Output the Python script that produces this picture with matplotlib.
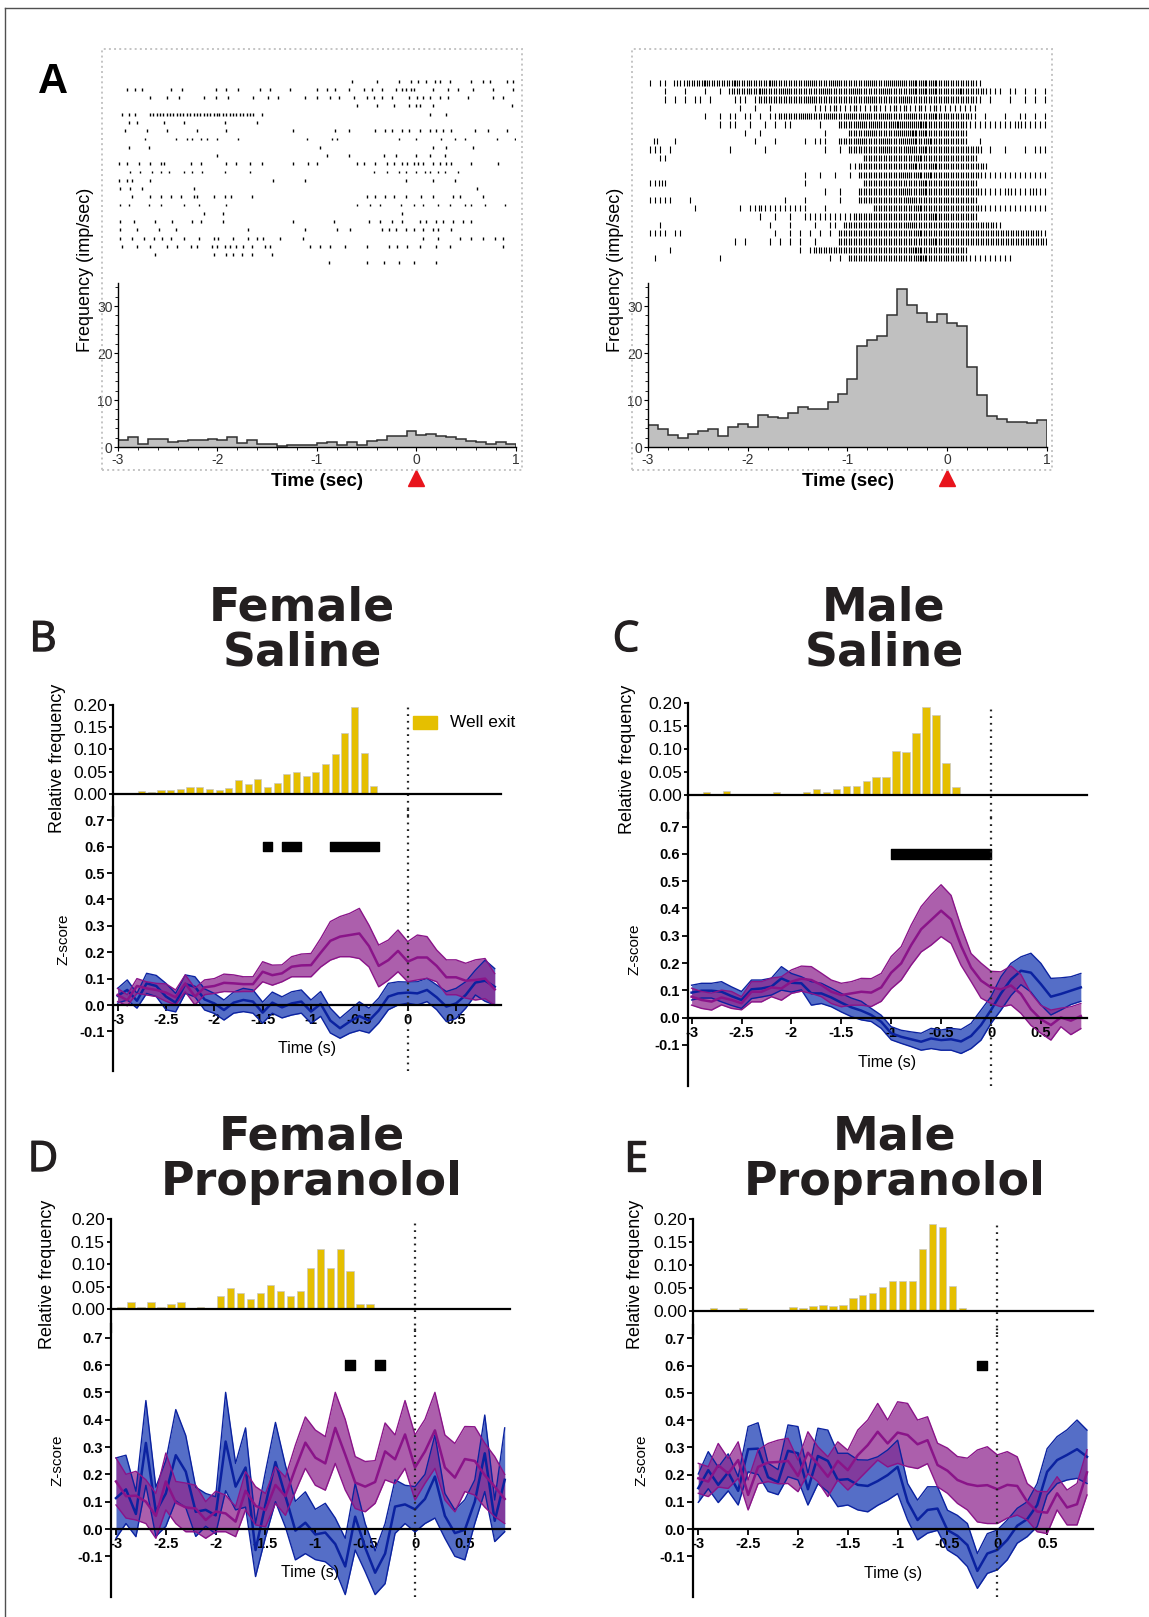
import numpy as np
import matplotlib.pyplot as plt
import matplotlib.patheffects as pe
from matplotlib.patches import Rectangle
from matplotlib.lines import Line2D

plt.rcParams['font.family'] = ['Liberation Sans', 'DejaVu Sans']

W, H = 1149, 1617

# ---------------- panel A data ----------------
# spike times (s) per trial, left unit
raster_left = [
    [-0.65, -0.40, -0.18, -0.06, 0.02, 0.10, 0.19, 0.24, 0.34, 0.55, 0.67, 0.74, 0.91, 0.97],
    [-2.91, -2.83, -2.76, -2.47, -2.36, -2.02, -1.91, -1.79, -1.57, -1.47, -1.27, -1.00, -0.90, -0.82,
     -0.68, -0.53, -0.45, -0.35, -0.21, -0.15, -0.11, -0.06, -0.03, 0.17, 0.32, 0.42, 0.57, 0.77, 0.97],
    [-2.68, -2.51, -2.39, -2.14, -2.02, -1.89, -1.64, -1.49, -1.39, -1.12, -1.00, -0.87, -0.78, -0.63,
     -0.50, -0.43, -0.35, -0.25, -0.08, 0.00, 0.07, 0.14, 0.24, 0.32, 0.52, 0.77, 0.87],
    [-0.60, -0.40, -0.23, -0.08, -0.01, 0.04, 0.17, 0.96],
    [-2.96, -2.89, -2.83, -2.68, -2.65, -2.61, -2.58, -2.55, -2.51, -2.48, -2.45, -2.41, -2.38, -2.35,
     -2.31, -2.28, -2.24, -2.21, -2.18, -2.14, -2.11, -2.08, -2.04, -2.01, -1.98, -1.94, -1.91, -1.87,
     -1.84, -1.81, -1.77, -1.74, -1.70, -1.67, -1.64, -1.55, 0.14, 0.30],
    [-2.89, -2.81, -2.54, -2.34, -1.92, -1.60],
    [-2.93, -2.71, -2.51, -2.21, -1.91, -1.24, -0.82, -0.68, -0.42, -0.32, -0.25, -0.15, -0.08, 0.04,
     0.14, 0.20, 0.27, 0.35, 0.59, 0.72, 0.91],
    [-2.73, -2.42, -2.31, -2.26, -2.17, -2.11, -2.01, -1.79, -1.10, -0.85, -0.80, -0.18, -0.01, 0.25,
     0.39, 0.49, 0.81, 0.99],
    [-2.89, -2.69, -0.97, 0.17, 0.30, 0.57],
    [-2.01, -0.90, -0.68, -0.33, -0.21, -0.01, 0.14, 0.29],
    [-2.99, -2.91, -2.79, -2.68, -2.57, -2.54, -2.27, -2.17, -1.91, -1.81, -1.67, -1.55, -1.24, -1.09,
     -1.00, -0.60, -0.53, -0.42, -0.30, -0.23, -0.15, -0.10, -0.03, 0.02, 0.07, 0.17, 0.24, 0.30, 0.35,
     0.55, 0.82],
    [-2.88, -2.78, -2.66, -2.57, -2.49, -2.34, -2.26, -2.16, -1.92, -1.67, -0.43, -0.30, -0.18, -0.11,
     -0.01, 0.09, 0.14, 0.22, 0.29, 0.42],
    [-2.99, -2.91, -2.86, -2.68, -1.44, -1.12, -0.11, 0.17, 0.39],
    [-2.98, -2.88, -2.76, -2.24, 0.61],
    [-2.86, -2.68, -2.57, -2.47, -2.37, -2.24, -2.21, -2.04, -1.92, -1.86, -1.65, -0.50, -0.42, -0.32,
     -0.23, -0.11, 0.05, 0.17, 0.37, 0.44, 0.67],
    [-2.98, -2.89, -2.69, -2.57, -2.34, -2.19, -1.91, -0.60, -0.47, -0.37, -0.16, -0.03, 0.07, 0.22,
     0.34, 0.49, 0.55, 0.69, 0.89],
    [-2.14, -1.94, -0.15],
    [-2.98, -2.84, -2.63, -2.46, -2.26, -2.17, -1.94, -1.24, -0.83, -0.48, -0.37, -0.25, -0.15, 0.04,
     0.10, 0.20, 0.27, 0.37, 0.47, 0.55],
    [-2.98, -2.81, -2.59, -2.42, -1.69, -1.12, -0.80, -0.67, -0.35, -0.28, -0.21, -0.11, -0.03, 0.07,
     0.17, 0.22, 0.35],
    [-2.98, -2.86, -2.74, -2.64, -2.56, -2.47, -2.34, -2.19, -2.04, -1.99, -1.84, -1.69, -1.60, -1.54,
     -1.37, -1.14, 0.07, 0.22, 0.44, 0.55, 0.67, 0.79, 0.87],
    [-2.96, -2.81, -2.68, -2.51, -2.41, -2.27, -2.21, -2.06, -2.01, -1.92, -1.87, -1.81, -1.74, -1.65,
     -1.52, -1.47, -1.07, -0.97, -0.87, -0.72, -0.50, -0.28, -0.20, -0.10, 0.04, 0.20, 0.34, 0.87],
    [-2.63, -2.04, -1.91, -1.84, -1.75, -1.65, -1.45],
    [-0.88, -0.50, -0.33, -0.18, -0.03, 0.20],
]

# right unit: spike counts per 0.05 s bin (-3 .. 1 s), one string per trial
raster_right_counts = [
    "1.11.21222 2322222322 2222322222 2232222322 2222322232 3223232322 2222221... ..........",
    "...1...1.. .1..1.2222 2232222322 2222232222 2322222322 2223232322 2232222211 1.11.1.1.1",
    "...1.1.1.1 1.1....111 .122222222 2232222222 2222322222 2322222222 2222221.1. ..1..1.1.1",
    ".......... ........1. .1..1..... ...1111211 1211121112 1211211211 111111.... ..........",
    ".......... .1..1.11.1 1.1.112222 2322223222 3223222322 2232222322 222221.1.. .1..11.1.1",
    ".......... ....1.11.. 1..1.1.11. ....1...22 2232232223 3232332222 2222111111 1111211111",
    ".......... .........1 ..1....... .....1.... 2222322222 3233232222 2222...... ..........",
    ".2...1.... .......... .1...1.... .1.111..22 2232222322 2323223222 2222..1... ..........",
    "111.1..... ......1... ...1...... .....1..1. 2222222322 2232232222 2222222.1. .1...1.111",
    "..11...... .......... .......... .......... ...2222222 2222322222 222222.... ..........",
    ".......... .......... .......... .......... 1122222222 2223222322 22222222.. ..........",
    ".......... .......... .......... .1..1..1.. 1.22222222 2322323222 2222222111 1111111111",
    "1121...... .......... .......... .1........ ...2222222 2222232222 222222.... ..........",
    ".......... .......... .......... .....1..1. ..22222222 2322232222 2222222111 1121111211",
    "11111...1. .......... .......1.. .1......1. ..22222222 2232222222 222222.... ..........",
    ".........1 ........1. 1121111111 11...1.... .....22222 2222322222 2222222111 1111111111",
    ".......... .......... ..1..1..1. .111111111 1222222222 2222222322 222222.... ..........",
    "..1....... .......... ....1...1. ...1..11.2 2222222222 2232222222 2222222222 1.........",
    "1111.11... .......... .....1..1. 1.1.1.1.22 2222222222 2222322222 2222222222 2222222221",
    ".......... .......1.1 ....1.1.1. 1..1....22 2222222222 2222222322 2222222222 2222222222",
    "....1..... .......... .......... 1.12222222 2222222222 2223322222 2222...... ..........",
    ".1........ ....1..... .......... ......1.1. 2222222222 2222332222 2222111111 111.......",
]

# peri-event histograms (imp/sec), 0.1 s bins from -3 to 1 s
psth_left = [1.55, 2.1, 0.7, 1.8, 1.6, 1.05, 1.3, 1.55, 1.4, 1.7,
             1.55, 2.1, 0.85, 1.55, 0.55, 0.55, 0.15, 0.35, 0.4, 0.35,
             0.85, 1.0, 0.35, 1.0, 0.35, 1.2, 1.55, 2.25, 2.25, 3.3,
             2.6, 2.75, 2.4, 2.2, 1.6, 1.2, 1.0, 0.65, 1.0, 0.55]
psth_right = [4.6, 3.9, 2.5, 1.9, 2.75, 3.45, 3.9, 2.3, 4.2, 4.8,
              4.15, 6.75, 6.35, 6.1, 7.2, 8.6, 8.0, 8.0, 9.65, 11.3,
              14.4, 21.4, 22.7, 23.7, 28.0, 33.7, 30.2, 28.5, 26.5, 28.3,
              26.3, 25.8, 17.0, 11.0, 6.5, 6.05, 5.4, 5.4, 5.2, 5.8]
psth_edges = np.round(np.linspace(-3, 1, 41), 2)

# ---------------- panels B-E data ----------------
time_s = np.round(np.linspace(-3.0, 0.9, 40), 2)

# well exit relative frequency: first bin centre and values (0.1 s bins)
exit_B_start, exit_B = -2.75, [0.005, 0.003, 0.008, 0.008, 0.01, 0.014, 0.014, 0.011, 0.008, 0.012,
                               0.031, 0.022, 0.033, 0.015, 0.023, 0.044, 0.049, 0.041, 0.05, 0.068,
                               0.089, 0.136, 0.195, 0.091, 0.017]
exit_C_start, exit_C = -2.95, [0.0015, 0.005, 0.002, 0.008, 0, 0, 0, 0, 0.005, 0,
                               0.001, 0.005, 0.013, 0.005, 0.013, 0.019, 0.02, 0.03, 0.039, 0.038,
                               0.096, 0.093, 0.136, 0.191, 0.175, 0.069, 0.017]
exit_D_start, exit_D = -2.95, [0.0045, 0.017, 0.0045, 0.017, 0.0045, 0.011, 0.017, 0, 0.0045, 0,
                               0.03, 0.048, 0.036, 0.023, 0.036, 0.054, 0.041, 0.03, 0.041, 0.091,
                               0.133, 0.091, 0.133, 0.085, 0.011, 0.011]
exit_E_start, exit_E = -2.85, [0.006, 0, 0, 0.006, 0, 0, 0, 0, 0.009, 0.006,
                               0.0095, 0.012, 0.0095, 0.012, 0.028, 0.034, 0.039, 0.052, 0.065, 0.065,
                               0.065, 0.134, 0.19, 0.183, 0.055, 0.006]

# z-score mean and SEM
B_purple = [0.038, 0.018, 0.072, 0.063, 0.057, 0.047, 0.029, 0.082, 0.032, 0.067,
            0.072, 0.084, 0.082, 0.079, 0.079, 0.126, 0.113, 0.12, 0.145, 0.15,
            0.151, 0.198, 0.243, 0.259, 0.265, 0.271, 0.223, 0.148, 0.17, 0.205,
            0.164, 0.18, 0.18, 0.148, 0.105, 0.105, 0.092, 0.095, 0.1, 0.059]
B_purple_sem = [0.025, 0.021, 0.028, 0.025, 0.025, 0.033, 0.028, 0.032, 0.032, 0.028,
                0.028, 0.033, 0.032, 0.028, 0.028, 0.038, 0.038, 0.032, 0.038, 0.043,
                0.044, 0.054, 0.073, 0.076, 0.082, 0.095, 0.079, 0.079, 0.076, 0.079,
                0.076, 0.085, 0.079, 0.06, 0.066, 0.066, 0.066, 0.076, 0.076, 0.06]
B_blue = [0.035, 0.057, 0.016, 0.082, 0.072, 0.032, 0.009, 0.079, 0.069, 0.021,
          0.006, -0.019, 0.009, 0.019, 0.013, -0.029, 0.009, -0.009, 0.006, 0.013,
          -0.025, 0.004, -0.059, -0.088, -0.063, -0.042, -0.059, -0.021, 0.032, 0.044,
          0.047, 0.044, 0.057, 0.029, -0.006, 0.006, 0.038, 0.085, 0.092, 0.069]
B_blue_sem = [0.028, 0.038, 0.028, 0.038, 0.04, 0.05, 0.035, 0.035, 0.038, 0.04,
              0.038, 0.038, 0.04, 0.044, 0.044, 0.04, 0.04, 0.04, 0.044, 0.044,
              0.044, 0.047, 0.047, 0.038, 0.044, 0.054, 0.047, 0.047, 0.05, 0.044,
              0.04, 0.044, 0.044, 0.047, 0.057, 0.057, 0.05, 0.047, 0.078, 0.069]

C_purple = [0.077, 0.065, 0.059, 0.074, 0.065, 0.053, 0.095, 0.095, 0.111, 0.107,
            0.132, 0.143, 0.138, 0.12, 0.095, 0.083, 0.089, 0.095, 0.092, 0.111,
            0.165, 0.199, 0.266, 0.324, 0.358, 0.392, 0.36, 0.263, 0.184, 0.136,
            0.111, 0.104, 0.118, 0.087, 0.031, -0.006, -0.027, 0.001, -0.011, 0.006]
C_purple_sem = [0.031, 0.031, 0.031, 0.027, 0.031, 0.024, 0.037, 0.037, 0.034, 0.043,
                0.043, 0.046, 0.049, 0.043, 0.043, 0.043, 0.043, 0.049, 0.051, 0.051,
                0.059, 0.061, 0.073, 0.083, 0.092, 0.095, 0.088, 0.071, 0.051, 0.064,
                0.059, 0.064, 0.071, 0.071, 0.059, 0.051, 0.055, 0.034, 0.051, 0.046]
C_blue = [0.092, 0.099, 0.099, 0.095, 0.079, 0.065, 0.104, 0.107, 0.114, 0.144,
          0.128, 0.126, 0.089, 0.089, 0.074, 0.055, 0.038, 0.026, 0.01, -0.015,
          -0.057, -0.07, -0.079, -0.088, -0.076, -0.082, -0.079, -0.087, -0.067, -0.027,
          0.028, 0.089, 0.14, 0.172, 0.165, 0.123, 0.077, 0.087, 0.099, 0.111]
C_blue_sem = [0.027, 0.027, 0.027, 0.037, 0.034, 0.031, 0.034, 0.031, 0.031, 0.043,
              0.034, 0.024, 0.043, 0.037, 0.034, 0.034, 0.034, 0.034, 0.024, 0.024,
              0.024, 0.024, 0.027, 0.031, 0.037, 0.037, 0.04, 0.044, 0.046, 0.055,
              0.049, 0.061, 0.059, 0.051, 0.071, 0.076, 0.067, 0.059, 0.051, 0.051]

D_purple = [0.174, 0.12, 0.122, 0.1, 0.048, 0.174, 0.097, 0.079, 0.075, 0.033,
            0.064, 0.057, 0.027, 0.14, 0.085, 0.069, 0.161, 0.12, 0.222, 0.316,
            0.261, 0.24, 0.37, 0.272, 0.17, 0.155, 0.172, 0.284, 0.255, 0.346,
            0.225, 0.284, 0.361, 0.225, 0.188, 0.256, 0.249, 0.197, 0.155, 0.11]
D_purple_sem = [0.086, 0.08, 0.089, 0.08, 0.082, 0.104, 0.077, 0.089, 0.085, 0.067,
                0.074, 0.067, 0.055, 0.07, 0.07, 0.061, 0.067, 0.07, 0.085, 0.094,
                0.101, 0.098, 0.13, 0.129, 0.095, 0.092, 0.078, 0.104, 0.089, 0.124,
                0.119, 0.117, 0.139, 0.119, 0.125, 0.119, 0.125, 0.117, 0.11, 0.09]
D_blue = [0.113, 0.145, 0.055, 0.315, 0.063, 0.13, 0.27, 0.21, 0.063, 0.07,
          0.05, 0.32, 0.155, 0.225, -0.077, 0.09, 0.245, 0.12, -0.006, 0.023,
          -0.02, -0.013, -0.055, -0.137, 0.045, -0.068, -0.16, -0.09, 0.082, 0.09,
          0.072, 0.11, 0.192, 0.048, -0.015, -0.003, 0.1, 0.277, 0.03, 0.18]
D_blue_sem = [0.147, 0.125, 0.083, 0.155, 0.09, 0.12, 0.167, 0.132, 0.09, 0.06,
              0.068, 0.18, 0.085, 0.145, 0.097, 0.12, 0.145, 0.113, 0.107, 0.113,
              0.092, 0.107, 0.095, 0.103, 0.122, 0.088, 0.08, 0.11, 0.098, 0.07,
              0.083, 0.09, 0.152, 0.082, 0.085, 0.11, 0.08, 0.14, 0.076, 0.19]

E_purple = [0.186, 0.174, 0.234, 0.204, 0.253, 0.125, 0.228, 0.244, 0.246, 0.25,
            0.195, 0.28, 0.238, 0.192, 0.25, 0.216, 0.271, 0.308, 0.357, 0.314,
            0.354, 0.345, 0.311, 0.326, 0.235, 0.214, 0.18, 0.165, 0.158, 0.161,
            0.146, 0.162, 0.158, 0.1, 0.064, 0.06, 0.131, 0.079, 0.091, 0.208]
E_purple_sem = [0.055, 0.055, 0.08, 0.055, 0.067, 0.055, 0.062, 0.07, 0.08, 0.083,
                0.058, 0.077, 0.064, 0.073, 0.07, 0.073, 0.092, 0.092, 0.104, 0.086,
                0.113, 0.116, 0.089, 0.086, 0.08, 0.083, 0.086, 0.095, 0.132, 0.141,
                0.126, 0.122, 0.107, 0.067, 0.074, 0.077, 0.061, 0.064, 0.076, 0.083]
E_blue = [0.15, 0.216, 0.162, 0.208, 0.14, 0.293, 0.295, 0.19, 0.172, 0.287,
          0.278, 0.146, 0.268, 0.25, 0.18, 0.183, 0.162, 0.158, 0.176, 0.198,
          0.228, 0.1, 0.033, 0.07, 0.075, -0.004, -0.025, -0.059, -0.154, -0.09,
          -0.077, -0.04, 0.012, 0.036, 0.088, 0.21, 0.253, 0.272, 0.293, 0.265]
E_blue_sem = [0.052, 0.068, 0.065, 0.068, 0.052, 0.083, 0.095, 0.052, 0.046, 0.095,
              0.098, 0.058, 0.102, 0.113, 0.098, 0.095, 0.092, 0.095, 0.089, 0.092,
              0.098, 0.067, 0.073, 0.085, 0.08, 0.073, 0.075, 0.079, 0.064, 0.073,
              0.073, 0.073, 0.064, 0.064, 0.079, 0.085, 0.086, 0.092, 0.107, 0.098]

# significant windows (start, end) in s
sig_B = [(-1.5, -1.4), (-1.3, -1.1), (-0.8, -0.3)]
sig_C = [(-1.0, 0.0)]
sig_D = [(-0.7, -0.6), (-0.4, -0.3)]
sig_E = [(-0.2, -0.1)]

GOLD = '#E5BF00'
BLUE_FILL, BLUE_LINE = '#2A4ABA', '#0B22A0'
PURP_FILL, PURP_LINE = '#902A90', '#8A1489'
INK = '#231f20'

fig = plt.figure(figsize=(W / 100, H / 100), dpi=100)


def fx(x):
    return x / W


def fy(y):
    return 1 - y / H


def px_axes(left, top, right, bottom):
    return fig.add_axes([fx(left), fy(bottom), (right - left) / W, (bottom - top) / H])


def counts_to_spikes(rows):
    trains = []
    for row in rows:
        s = row.replace(' ', '')
        spikes = []
        for i, ch in enumerate(s):
            if ch != '.':
                k = int(ch)
                for j in range(k):
                    spikes.append(-3 + 0.05 * i + 0.05 * (j + 0.5) / k)
        trains.append(spikes)
    return trains


# outer frame
fig.add_artist(Line2D([fx(5), fx(5)], [fy(8), 0], color='#505050', lw=1))
fig.add_artist(Line2D([fx(5), 1], [fy(8), fy(8)], color='#505050', lw=1))


def draw_unit(box_l, box_r, left, right, trains, psth, tick_len, tick_w, raster_box, label_x):
    fig.add_artist(Rectangle((fx(box_l), fy(470)), (box_r - box_l) / W, (470 - 49) / H,
                             transform=fig.transFigure, fill=False, ec='#c4c4c4', ls=':', lw=1.4))
    n = len(trains)
    axr = px_axes(left, raster_box[0], right, raster_box[1])
    axr.eventplot(trains, lineoffsets=np.arange(1, n + 1), linelengths=tick_len,
                  colors='black', linewidths=tick_w)
    axr.set_xlim(-3, 1)
    axr.set_ylim(n + 0.5, 0.5)
    axr.axis('off')

    axh = px_axes(left, 282.5, right, 447)
    axh.stairs(psth, psth_edges, fill=True, color='#c0c0c0')
    axh.stairs(psth, psth_edges, color='#303030', lw=1.1)
    axh.set_xlim(-3, 1)
    axh.set_ylim(0, 35)
    for sp in ['top', 'right']:
        axh.spines[sp].set_visible(False)
    for sp in ['left', 'bottom']:
        axh.spines[sp].set_linewidth(1.0)
    axh.set_yticks([0, 10, 20, 30])
    axh.set_yticks(np.arange(0, 35, 2), minor=True)
    axh.set_xticks([-3, -2, -1, 0, 1])
    axh.set_xticklabels(['-3', '-2', '-1', '0', '1'])
    axh.set_xticks(np.arange(-3, 1.01, 0.2), minor=True)
    axh.tick_params(which='major', length=3, width=0.8, labelsize=10, labelcolor='#333333', pad=1)
    axh.tick_params(which='minor', length=2, width=0.6)
    axh.plot([0], [-0.19], marker='^', ms=12, color='#E8141C', transform=axh.get_xaxis_transform(),
             clip_on=False)
    fig.text(fx((left + right) / 2), fy(481), 'Time (sec)', fontsize=13.5, fontweight='bold',
             ha='center', va='center')
    fig.text(fx(label_x), fy(270), 'Frequency (imp/sec)', fontsize=13, rotation=90,
             ha='center', va='center')


draw_unit(102, 522, 118, 516, raster_left, psth_left, 0.35, 1.0, (77, 267), 86)
draw_unit(632, 1052, 648, 1047, counts_to_spikes(raster_right_counts), psth_right, 0.75, 0.8,
          (78.5, 262.5), 616)
fig.text(fx(53), fy(82), 'A', fontsize=30, fontweight='bold', ha='center', va='center')


def draw_behav(g, exit_start, exit_vals, blue, blue_sem, purp, purp_sem, sig,
               title, letter, legend=False):
    x0, sx, left, right = g['x0'], g['sx'], g['left'], g['right']
    z0, sz, h0, sh = g['z0'], g['sz'], g['h0'], g['sh']
    xlim = ((left - x0) / sx, (right - x0) / sx)

    # histogram of well exits
    axh = px_axes(left, h0 - 0.205 * sh, right, h0 + 0.05 * sh)
    centers = exit_start + 0.1 * np.arange(len(exit_vals))
    axh.bar(centers, exit_vals, width=0.075, color=GOLD, edgecolor='#c8c8c8', linewidth=0.5)
    axh.plot([0, 0], [-0.05, 0.195], color='#222222', lw=1.6, ls=(0, (0.8, 2.2)))
    axh.set_xlim(*xlim)
    axh.set_ylim(-0.05, 0.205)
    axh.patch.set_alpha(0)
    for sp in ['top', 'right']:
        axh.spines[sp].set_visible(False)
    axh.spines['bottom'].set_position(('data', 0))
    axh.spines['left'].set_bounds(-0.05, 0.2)
    for sp in ['left', 'bottom']:
        axh.spines[sp].set_linewidth(1.6)
    axh.set_xticks([])
    axh.set_yticks([0, 0.05, 0.10, 0.15, 0.20])
    axh.set_yticklabels(['0.00', '0.05', '0.10', '0.15', '0.20'])
    axh.tick_params(axis='y', length=3, width=1.3, labelsize=12.5, pad=1.5)

    # z-score traces
    axz = px_axes(left, z0 - 0.75 * sz, right, z0 + 0.25 * sz)
    axz.patch.set_alpha(0)
    t = time_s
    for m, s, fc, lc, a in [(blue, blue_sem, BLUE_FILL, BLUE_LINE, 0.8),
                            (purp, purp_sem, PURP_FILL, PURP_LINE, 0.75)]:
        m = np.array(m)
        s = np.array(s)
        axz.fill_between(t, m - s, m + s, color=fc, alpha=a, lw=0)
        axz.plot(t, m + s, color=lc, lw=1.0)
        axz.plot(t, m - s, color=lc, lw=1.0)
        axz.plot(t, m, color=lc, lw=1.8)
    axz.broken_barh([(a, b - a) for a, b in sig], (0.582, 0.036), color='black')
    axz.axvline(0, color='#222222', lw=1.6, ls=(0, (0.8, 2.2)))
    axz.set_xlim(*xlim)
    axz.set_ylim(-0.25, 0.75)
    for sp in ['top', 'right']:
        axz.spines[sp].set_visible(False)
    axz.spines['bottom'].set_position(('data', 0))
    for sp in ['left', 'bottom']:
        axz.spines[sp].set_linewidth(1.6)
    axz.set_yticks([-0.1, 0, 0.1, 0.2, 0.3, 0.4, 0.5, 0.6, 0.7])
    axz.set_yticklabels(['-0.1', '0.0', '0.1', '0.2', '0.3', '0.4', '0.5', '0.6', '0.7'])
    axz.set_xticks([-3, -2.5, -2, -1.5, -1, -0.5, 0, 0.5])
    axz.set_xticklabels(['-3', '-2.5', '-2', '-1.5', '-1', '-0.5', '0', '0.5'])
    axz.tick_params(length=4, width=1.3, labelsize=10.5, pad=2)
    for lab in axz.get_xticklabels() + axz.get_yticklabels():
        lab.set_fontweight('bold')

    fig.text(fx(g['rf'][0]), fy(g['rf'][1]), 'Relative frequency', fontsize=13, rotation=90,
             ha='center', va='center')
    fig.text(fx(g['zs'][0]), fy(g['zs'][1]), 'Z-score', fontsize=11, rotation=90,
             ha='center', va='center')
    fig.text(fx(g['tm'][0]), fy(g['tm'][1]), 'Time (s)', fontsize=11.5, ha='center', va='center')
    for i, line in enumerate(title):
        fig.text(fx(g['title'][0]), fy(g['title'][1] + 45 * i), line, family=['DejaVu Sans'],
                 fontsize=33, fontweight='bold', ha='center', va='baseline', color=INK)
    fig.text(fx(g['letter'][0]), fy(g['letter'][1]), letter, family=['Open Sans', 'DejaVu Sans'],
             fontsize=30, ha='center', va='center', color=INK,
             path_effects=[pe.withStroke(linewidth=1.0, foreground=INK)])
    if legend:
        fig.add_artist(Rectangle((fx(413), fy(729)), 24 / W, 13 / H, transform=fig.transFigure,
                                 color=GOLD))
        fig.text(fx(450), fy(722), 'Well exit', fontsize=12.5, ha='left', va='center')


geo_B = dict(x0=407.7, sx=96.7, left=113.3, right=501, z0=1005, sz=264, h0=793.7, sh=443.5,
             rf=(57, 758), zs=(63, 939), tm=(307, 1048), title=(302, 620), letter=(43, 640))
geo_C = dict(x0=991, sx=99.8, left=688.3, right=1086.7, z0=1017.7, sz=273, h0=794.7, sh=457,
             rf=(628, 759), zs=(634, 949), tm=(887, 1062), title=(884, 620), letter=(626, 640))
geo_D = dict(x0=415, sx=99.67, left=111, right=510, z0=1529, sz=273.3, h0=1309.3, sh=450,
             rf=(48, 1274), zs=(58, 1460), tm=(310, 1572), title=(312, 1150), letter=(43, 1160))
geo_E = dict(x0=997.3, sx=99.67, left=693.3, right=1093.3, z0=1529, sz=272.4, h0=1310.7, sh=457,
             rf=(635, 1274), zs=(641, 1460), tm=(893, 1573), title=(895, 1150), letter=(636, 1160))

draw_behav(geo_B, exit_B_start, exit_B, B_blue, B_blue_sem, B_purple, B_purple_sem, sig_B,
           ['Female', 'Saline'], 'B', legend=True)
draw_behav(geo_C, exit_C_start, exit_C, C_blue, C_blue_sem, C_purple, C_purple_sem, sig_C,
           ['Male', 'Saline'], 'C')
draw_behav(geo_D, exit_D_start, exit_D, D_blue, D_blue_sem, D_purple, D_purple_sem, sig_D,
           ['Female', 'Propranolol'], 'D')
draw_behav(geo_E, exit_E_start, exit_E, E_blue, E_blue_sem, E_purple, E_purple_sem, sig_E,
           ['Male', 'Propranolol'], 'E')

fig.savefig('out.png', dpi=100)
